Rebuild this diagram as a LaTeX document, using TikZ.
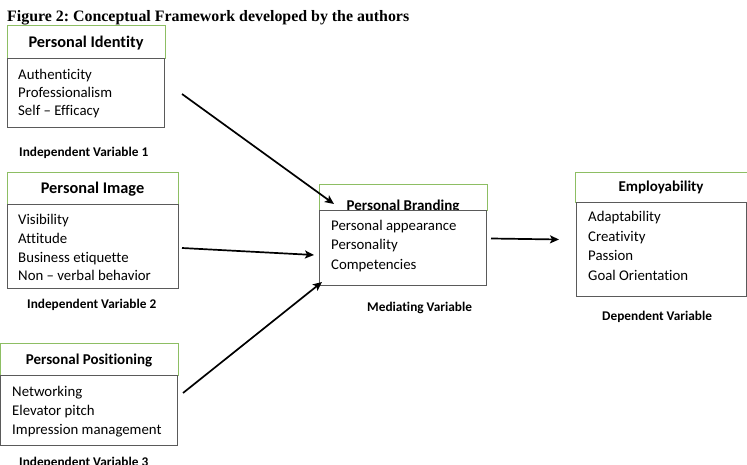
\documentclass[tikz,border=0pt]{standalone}
\usepackage{fontspec}
\setmainfont{Carlito}[Ligatures={NoCommon,NoContextual}]
\newfontfamily\titlefont{Liberation Serif}
\usetikzlibrary{arrows.meta}
\definecolor{hdrgreen}{HTML}{8DBE63}
\definecolor{bodygray}{HTML}{5A5A5A}
\tikzset{
  hdrbox/.style={draw=hdrgreen, line width=1.2pt, fill=white, rectangle, inner sep=0pt, anchor=north west},
  bodybox/.style={draw=bodygray, line width=1.1pt, fill=white, rectangle, inner sep=0pt, anchor=north west},
  item/.style={anchor=base west, inner sep=0pt, font=\fontsize{14.8}{18}\selectfont},
  hdrtxt/.style={anchor=base, inner sep=0pt, font=\bfseries\fontsize{15}{18}\selectfont},
  hdrbig/.style={anchor=base, inner sep=0pt, font=\bfseries\fontsize{16.3}{18}\selectfont},
  varlbl/.style={anchor=base west, inner sep=0pt, font=\bfseries\fontsize{13.3}{16}\selectfont},
  arr/.style={line width=1.7pt, -{Stealth[length=9pt,width=8pt,inset=2pt]}}
}
\begin{document}
\frenchspacing
\begin{tikzpicture}[x=1pt,y=-1pt]
\useasboundingbox (0,0) rectangle (747,465);
\fill[white] (0,0) rectangle (747,465);
% title
\node[anchor=base west, inner sep=0pt, font=\titlefont\bfseries\fontsize{15.9}{18}\selectfont] (title) at (7,21.5) {Figure 2: Conceptual Framework developed by the authors};
% Personal Identity
\node[hdrbox, minimum width=158pt, minimum height=33pt] (pih) at (7,25) {};
\node[hdrbig] (pit) at (86,48) {Personal Identity};
\node[bodybox, minimum width=157pt, minimum height=69pt] (pib) at (7,58) {};
\node[item] (pi1) at (18,80) {Authenticity};
\node[item] (pi2) at (18,98) {Professionalism};
\node[item] (pi3) at (18,116) {Self – Efficacy};
\node[varlbl] (iv1) at (19,157) {Independent Variable 1};
% Personal Image
\node[hdrbox, minimum width=171pt, minimum height=32pt] (pmh) at (7,172) {};
\node[hdrbig] (pmt) at (92.5,194) {Personal Image};
\node[bodybox, minimum width=171pt, minimum height=84pt] (pmb) at (7,204) {};
\node[item] (pm1) at (18,225) {Visibility};
\node[item] (pm2) at (18,243.5) {Attitude};
\node[item] (pm3) at (18,262) {Business etiquette};
\node[item] (pm4) at (18,280.5) {Non – verbal behavior};
\node[varlbl] (iv2) at (27,308) {Independent Variable 2};
% Personal Positioning
\node[hdrbox, minimum width=178pt, minimum height=32pt] (pph) at (0,343) {};
\node[hdrtxt] (ppt) at (89,364) {Personal Positioning};
\node[bodybox, minimum width=177pt, minimum height=70pt] (ppb) at (0,375) {};
\node[item] (pp1) at (12,396) {Networking};
\node[item] (pp2) at (12,415) {Elevator pitch};
\node[item] (pp3) at (12,434) {Impression management};
\node[varlbl] (iv3) at (19,466.5) {Independent Variable 3};
% Personal Branding
\node[hdrbox, minimum width=168pt, minimum height=26pt] (pbh) at (319,184) {};
\node[hdrtxt] (pbt) at (403,211) {Personal Branding};
\node[bodybox, minimum width=167pt, minimum height=75pt] (pbb) at (319,210) {};
\node[item] (pb1) at (331,230.5) {Personal appearance};
\node[item] (pb2) at (331,250) {Personality};
\node[item] (pb3) at (331,269.5) {Competencies};
\node[varlbl] (mv) at (367,311) {Mediating Variable};
% Employability
\node[hdrbox, minimum width=172pt, minimum height=30pt] (emh) at (575,172) {};
\node[hdrtxt] (emt) at (661,192) {Employability};
\node[bodybox, minimum width=170pt, minimum height=94pt] (emb) at (576,202) {};
\node[item] (em1) at (588,222) {Adaptability};
\node[item] (em2) at (588,242) {Creativity};
\node[item] (em3) at (588,261) {Passion};
\node[item] (em4) at (588,280) {Goal Orientation};
\node[varlbl] (dv) at (602,320) {Dependent Variable};
% arrows
\coordinate (a1s) at (182,94);
\coordinate (a1e) at (334,204);
\coordinate (a2s) at (182,248);
\coordinate (a2e) at (314,255);
\coordinate (a3s) at (183,393);
\coordinate (a3e) at (322,282);
\coordinate (a4s) at (491,238.5);
\coordinate (a4e) at (559,239.5);
\draw[arr] (a1s) -- (a1e);
\draw[arr] (a2s) -- (a2e);
\draw[arr] (a3s) -- (a3e);
\draw[arr] (a4s) -- (a4e);
\end{tikzpicture}
\end{document}
